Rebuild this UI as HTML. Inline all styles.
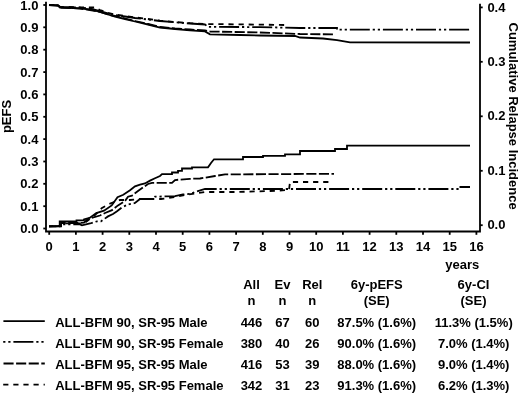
<!DOCTYPE html>
<html><head><meta charset="utf-8"><style>
html,body{margin:0;padding:0;background:#fff;width:520px;height:393px;overflow:hidden}
body{position:relative;font-family:"Liberation Sans", sans-serif}
</style></head><body>
<svg width="520" height="393" viewBox="0 0 520 393" style="position:absolute;left:0;top:0;will-change:transform">
<g font-family='"Liberation Sans", sans-serif' font-weight="bold" font-size="13" fill="#000">
<g stroke="#000" stroke-width="1.8" fill="none">
<path d="M46,1.7 V231.5 H480 V3.7"/>
<path d="M43.3,5.0 H46"/>
<path d="M43.3,27.3 H46"/>
<path d="M43.3,49.7 H46"/>
<path d="M43.3,72.1 H46"/>
<path d="M43.3,94.4 H46"/>
<path d="M43.3,116.8 H46"/>
<path d="M43.3,139.1 H46"/>
<path d="M43.3,161.5 H46"/>
<path d="M43.3,183.8 H46"/>
<path d="M43.3,206.2 H46"/>
<path d="M43.3,228.5 H46"/>
<path d="M480,225.2 H482.7"/>
<path d="M480,170.8 H482.7"/>
<path d="M480,116.3 H482.7"/>
<path d="M480,61.8 H482.7"/>
<path d="M480,7.4 H482.7"/>
<path d="M49.2,231.5 V234.8"/>
<path d="M75.9,231.5 V234.8"/>
<path d="M102.6,231.5 V234.8"/>
<path d="M129.3,231.5 V234.8"/>
<path d="M156.0,231.5 V234.8"/>
<path d="M182.7,231.5 V234.8"/>
<path d="M209.4,231.5 V234.8"/>
<path d="M236.1,231.5 V234.8"/>
<path d="M262.8,231.5 V234.8"/>
<path d="M289.5,231.5 V234.8"/>
<path d="M316.2,231.5 V234.8"/>
<path d="M342.9,231.5 V234.8"/>
<path d="M369.6,231.5 V234.8"/>
<path d="M396.3,231.5 V234.8"/>
<path d="M423.0,231.5 V234.8"/>
<path d="M449.7,231.5 V234.8"/>
<path d="M476.4,231.5 V234.8"/>
</g>
<text x="38.4" y="9.6" text-anchor="end">1.0</text>
<text x="38.4" y="31.9" text-anchor="end">0.9</text>
<text x="38.4" y="54.3" text-anchor="end">0.8</text>
<text x="38.4" y="76.7" text-anchor="end">0.7</text>
<text x="38.4" y="99.0" text-anchor="end">0.6</text>
<text x="38.4" y="121.3" text-anchor="end">0.5</text>
<text x="38.4" y="143.7" text-anchor="end">0.4</text>
<text x="38.4" y="166.1" text-anchor="end">0.3</text>
<text x="38.4" y="188.4" text-anchor="end">0.2</text>
<text x="38.4" y="210.8" text-anchor="end">0.1</text>
<text x="38.4" y="233.1" text-anchor="end">0.0</text>
<text x="487.4" y="229.3">0.0</text>
<text x="487.4" y="174.8">0.1</text>
<text x="487.4" y="120.4">0.2</text>
<text x="487.4" y="65.9">0.3</text>
<text x="487.4" y="11.5">0.4</text>
<text x="49.2" y="250.6" text-anchor="middle">0</text>
<text x="75.9" y="250.6" text-anchor="middle">1</text>
<text x="102.6" y="250.6" text-anchor="middle">2</text>
<text x="129.3" y="250.6" text-anchor="middle">3</text>
<text x="156.0" y="250.6" text-anchor="middle">4</text>
<text x="182.7" y="250.6" text-anchor="middle">5</text>
<text x="209.4" y="250.6" text-anchor="middle">6</text>
<text x="236.1" y="250.6" text-anchor="middle">7</text>
<text x="262.8" y="250.6" text-anchor="middle">8</text>
<text x="289.5" y="250.6" text-anchor="middle">9</text>
<text x="316.2" y="250.6" text-anchor="middle">10</text>
<text x="342.9" y="250.6" text-anchor="middle">11</text>
<text x="369.6" y="250.6" text-anchor="middle">12</text>
<text x="396.3" y="250.6" text-anchor="middle">13</text>
<text x="423.0" y="250.6" text-anchor="middle">14</text>
<text x="449.7" y="250.6" text-anchor="middle">15</text>
<text x="476.4" y="250.6" text-anchor="middle">16</text>
<text x="462.3" y="268.5" text-anchor="middle">years</text>
<text transform="translate(10.7,116.5) rotate(-90)" text-anchor="middle">pEFS</text>
<text transform="translate(509.4,116.1) rotate(90)" text-anchor="middle">Cumulative Relapse Incidence</text>
<g fill="none" stroke="#000" stroke-width="1.8" stroke-linejoin="miter">
<polyline points="49.0,5.0 58.0,5.5 60.0,7.5 80.0,8.3 90.0,9.5 100.0,12.0 108.0,14.5 115.0,16.7 125.0,19.0 135.0,21.5 148.0,24.5 160.0,27.5 175.0,29.0 190.0,30.3 205.0,31.4 210.0,34.3 240.0,35.0 260.0,35.5 295.0,36.0 300.0,37.5 323.0,38.5 337.0,40.2 350.0,42.4 470.0,42.5"/>
<polyline points="49.0,5.0 58.0,5.5 60.0,7.5 80.0,8.5 90.0,10.0 100.0,11.8 108.0,14.5 115.0,16.0 125.0,18.5 135.0,21.0 148.0,24.0 160.0,27.0 175.0,28.5 190.0,29.5 205.0,30.5 210.0,31.5 260.0,32.5 300.0,34.0 334.0,34.4" stroke-dasharray="10.1 2.5"/>
<polyline points="49.0,5.0 58.0,5.3 60.0,7.0 80.0,7.6 90.0,8.5 100.0,11.0 108.0,13.3 115.0,15.0 125.0,16.5 135.0,18.0 148.0,19.5 160.0,21.0 175.0,22.3 190.0,23.5 205.0,24.5 208.0,26.8 260.0,27.1 300.0,28.0 337.0,28.0 337.0,29.7 470.0,29.7" stroke-dasharray="20 2.9 2.2 2.9 2.2 2.9" stroke-dashoffset="25.65"/>
<polyline points="49.0,5.0 58.0,5.3 60.0,6.8 80.0,7.3 95.0,7.5 100.0,10.0 108.0,12.8 115.0,14.6 125.0,16.0 135.0,17.4 148.0,19.0 160.0,20.7 175.0,22.0 190.0,23.2 205.0,24.0 260.0,24.6 285.0,25.0" stroke-dasharray="5.2 4.9"/>
<polyline points="49.0,226.3 59.7,226.3 59.7,221.3 76.5,221.3 76.5,220.4 84.0,220.4 84.0,219.5 89.6,217.9 96.3,213.1 104.0,210.7 111.7,205.4 117.5,197.2 123.3,194.8 130.0,190.3 135.0,186.3 140.0,184.6 145.0,183.5 150.0,180.6 155.0,178.3 160.0,176.0 162.0,174.2 172.0,174.2 172.0,172.5 178.0,172.5 178.0,170.8 182.0,170.8 182.0,168.5 192.0,168.5 192.0,167.3 208.0,167.3 211.0,163.0 214.0,159.3 243.0,159.3 243.0,157.0 263.0,157.0 263.0,155.9 285.0,155.9 285.0,154.4 300.0,154.4 300.0,151.0 335.0,151.0 335.0,149.0 347.0,149.0 347.0,145.7 470.0,145.7"/>
<polyline points="49.0,226.3 61.0,226.3 61.0,223.0 80.0,223.0 84.0,222.6 88.0,218.8 100.0,215.5 105.0,213.0 112.0,210.2 115.0,207.8 118.0,205.4 125.0,201.0 128.0,196.7 132.0,195.6 138.0,191.0 143.0,187.5 148.0,184.0 152.0,182.9 172.0,182.9 175.0,180.0 190.0,178.8 200.0,178.5 215.0,176.0 225.0,174.4 334.0,173.8" stroke-dasharray="10.1 2.5" stroke-dashoffset="2.67"/>
<polyline points="49.0,226.3 61.0,226.0 62.0,224.4 80.0,224.4 82.0,225.3 90.0,223.5 97.0,221.3 101.0,221.3 108.0,216.4 113.0,214.0 117.0,211.2 122.0,207.3 128.0,204.4 135.0,203.0 140.0,199.0 152.0,199.0 155.0,196.7 175.0,196.1 183.0,194.4 190.0,193.8 195.0,192.0 205.0,189.0 459.0,189.0 459.0,187.0 470.0,187.0" stroke-dasharray="20 2.9 2.2 2.9 2.2 2.9" stroke-dashoffset="7.91"/>
<polyline points="49.0,226.3 61.0,226.0 61.0,223.3 80.0,223.3 86.0,222.0 95.0,215.0 101.6,208.3 107.9,204.4 114.0,202.0 120.0,200.0 130.0,200.0 141.0,199.0 161.0,199.0 175.0,197.0 185.0,195.0 205.0,192.0 235.0,192.0 270.0,191.0 289.0,190.0 290.0,182.0 329.0,182.0" stroke-dasharray="5.2 4.9" stroke-dashoffset="1.05"/>
<path d="M3.4,321.1 H44.8"/>
<path d="M3.2,341.9 H44.8" stroke-dasharray="20 2.9 2.2 2.9 2.2 2.9" stroke-dashoffset="22.9"/>
<path d="M3.5,363.5 H44.8" stroke-dasharray="10.1 2.5"/>
<path d="M3.2,384.7 H44.8" stroke-dasharray="5.2 4.9"/>
</g>
<text x="251.5" y="289.3" text-anchor="middle">All</text>
<text x="251.5" y="305.4" text-anchor="middle">n</text>
<text x="282.5" y="289.3" text-anchor="middle">Ev</text>
<text x="282.5" y="305.4" text-anchor="middle">n</text>
<text x="312.3" y="289.3" text-anchor="middle">Rel</text>
<text x="312.3" y="305.4" text-anchor="middle">n</text>
<text x="376.7" y="289.3" text-anchor="middle">6y-pEFS</text>
<text x="376.7" y="305.4" text-anchor="middle">(SE)</text>
<text x="473.5" y="289.3" text-anchor="middle">6y-CI</text>
<text x="473.5" y="305.4" text-anchor="middle">(SE)</text>
<text x="55.2" y="327.0">ALL-BFM 90, SR-95 Male</text>
<text x="251.5" y="327.0" text-anchor="middle">446</text>
<text x="282.5" y="327.0" text-anchor="middle">67</text>
<text x="312.3" y="327.0" text-anchor="middle">60</text>
<text x="376.7" y="327.0" text-anchor="middle">87.5% (1.6%)</text>
<text x="473.7" y="327.0" text-anchor="middle">11.3% (1.5%)</text>
<text x="55.2" y="348.1">ALL-BFM 90, SR-95 Female</text>
<text x="251.5" y="348.1" text-anchor="middle">380</text>
<text x="282.5" y="348.1" text-anchor="middle">40</text>
<text x="312.3" y="348.1" text-anchor="middle">26</text>
<text x="376.7" y="348.1" text-anchor="middle">90.0% (1.6%)</text>
<text x="473.7" y="348.1" text-anchor="middle">7.0% (1.4%)</text>
<text x="55.2" y="369.2">ALL-BFM 95, SR-95 Male</text>
<text x="251.5" y="369.2" text-anchor="middle">416</text>
<text x="282.5" y="369.2" text-anchor="middle">53</text>
<text x="312.3" y="369.2" text-anchor="middle">39</text>
<text x="376.7" y="369.2" text-anchor="middle">88.0% (1.6%)</text>
<text x="473.7" y="369.2" text-anchor="middle">9.0% (1.4%)</text>
<text x="55.2" y="390.3">ALL-BFM 95, SR-95 Female</text>
<text x="251.5" y="390.3" text-anchor="middle">342</text>
<text x="282.5" y="390.3" text-anchor="middle">31</text>
<text x="312.3" y="390.3" text-anchor="middle">23</text>
<text x="376.7" y="390.3" text-anchor="middle">91.3% (1.6%)</text>
<text x="473.7" y="390.3" text-anchor="middle">6.2% (1.3%)</text>
</g></svg>
</body></html>
